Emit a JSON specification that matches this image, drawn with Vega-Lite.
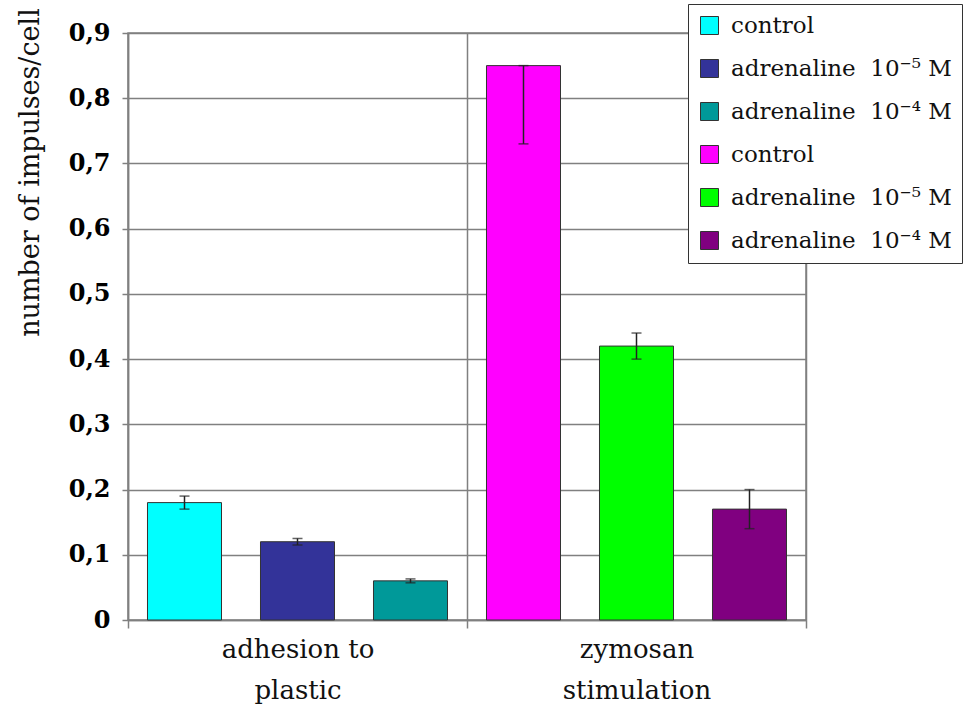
{
  "$schema": "https://vega.github.io/schema/vega-lite/v6.json",
  "autosize": {"type": "none"},
  "padding": {"left": 128, "top": 33, "right": 164, "bottom": 92},
  "width": 678,
  "height": 587,
  "background": "white",
  "config": {
    "view": {"stroke": "#808080", "strokeWidth": 1.5},
    "font": "DejaVu Serif"
  },
  "data": {
    "values": [
      {"group": "adhesion to|plastic", "slot": "a", "series": "control#1", "value": 0.18, "lo": 0.17, "hi": 0.19},
      {"group": "adhesion to|plastic", "slot": "b", "series": "adrenaline\u00a0 10⁻⁵ M#1", "value": 0.12, "lo": 0.115, "hi": 0.125},
      {"group": "adhesion to|plastic", "slot": "c", "series": "adrenaline\u00a0 10⁻⁴ M#1", "value": 0.06, "lo": 0.057, "hi": 0.063},
      {"group": "zymosan|stimulation", "slot": "a", "series": "control#2", "value": 0.85, "lo": 0.73, "hi": 0.85},
      {"group": "zymosan|stimulation", "slot": "b", "series": "adrenaline\u00a0 10⁻⁵ M#2", "value": 0.42, "lo": 0.40, "hi": 0.44},
      {"group": "zymosan|stimulation", "slot": "c", "series": "adrenaline\u00a0 10⁻⁴ M#2", "value": 0.17, "lo": 0.14, "hi": 0.20}
    ]
  },
  "encoding": {
    "x": {
      "field": "group",
      "type": "nominal",
      "sort": null,
      "scale": {"paddingInner": 0, "paddingOuter": 0},
      "axis": {
        "title": null,
        "labelAngle": 0,
        "labelExpr": "split(datum.label, '|')",
        "labelFont": "DejaVu Serif",
        "labelFontSize": 26,
        "labelColor": "#111",
        "labelLineHeight": 41,
        "labelBaseline": "top",
        "labelPadding": 8,
        "tickBand": "extent",
        "tickSize": 8,
        "tickColor": "#808080",
        "tickWidth": 1.5,
        "domainColor": "#808080",
        "domainWidth": 1.5,
        "grid": true,
        "gridColor": "#808080",
        "gridWidth": 1.5
      }
    },
    "xOffset": {
      "field": "slot",
      "type": "nominal",
      "scale": {"paddingInner": 0.345, "paddingOuter": 0.1725}
    }
  },
  "layer": [
    {
      "mark": {"type": "bar", "stroke": "#333333", "strokeWidth": 1},
      "encoding": {
        "y": {
          "field": "value",
          "type": "quantitative",
          "scale": {"domain": [0, 0.9]},
          "axis": {
            "title": "number of impulses/cell",
            "titleFont": "DejaVu Serif",
            "titleFontSize": 27,
            "titleFontWeight": "normal",
            "titleColor": "#111",
            "titleAnchor": "start",
            "titleAlign": "center",
            "titleAngle": -90,
            "titleBaseline": "middle",
            "titleX": -98,
            "titleY": 139,
            "values": [0, 0.1, 0.2, 0.3, 0.4, 0.5, 0.6, 0.7, 0.8, 0.9],
            "labelExpr": "datum.value == 0 ? '0' : replace(format(datum.value, '.1f'), '.', ',')",
            "labelFont": "DejaVu Serif",
            "labelFontSize": 24,
            "labelFontWeight": "bold",
            "labelColor": "#000",
            "labelPadding": 12,
            "tickSize": 6,
            "tickColor": "#808080",
            "tickWidth": 1.5,
            "domainColor": "#808080",
            "domainWidth": 1.5,
            "gridColor": "#808080",
            "gridWidth": 1.5
          }
        },
        "color": {
          "field": "series",
          "type": "nominal",
          "sort": null,
          "scale": {
            "domain": ["control#1", "adrenaline\u00a0 10⁻⁵ M#1", "adrenaline\u00a0 10⁻⁴ M#1", "control#2", "adrenaline\u00a0 10⁻⁵ M#2", "adrenaline\u00a0 10⁻⁴ M#2"],
            "range": ["#00ffff", "#333399", "#009999", "#ff00ff", "#00ff00", "#800080"]
          },
          "legend": {
            "title": null,
            "orient": "none",
            "legendX": 560,
            "legendY": -29,
            "labelExpr": "split(datum.label, '#')[0]",
            "labelFont": "DejaVu Serif",
            "labelFontSize": 23,
            "labelColor": "#111",
            "labelLimit": 400,
            "labelOffset": 10,
            "symbolType": "square",
            "symbolSize": 324,
            "symbolStrokeColor": "#333333",
            "symbolStrokeWidth": 1,
            "rowPadding": 19,
            "padding": 10,
            "strokeColor": "#333333",
            "fillColor": "white"
          }
        }
      }
    },
    {
      "mark": {"type": "rule", "color": "#222222", "strokeWidth": 1.5},
      "encoding": {
        "y": {"field": "lo", "type": "quantitative"},
        "y2": {"field": "hi"}
      }
    },
    {
      "mark": {"type": "tick", "color": "#222222", "size": 10, "thickness": 1.5},
      "encoding": {
        "y": {"field": "lo", "type": "quantitative"}
      }
    },
    {
      "mark": {"type": "tick", "color": "#222222", "size": 10, "thickness": 1.5},
      "encoding": {
        "y": {"field": "hi", "type": "quantitative"}
      }
    }
  ]
}
